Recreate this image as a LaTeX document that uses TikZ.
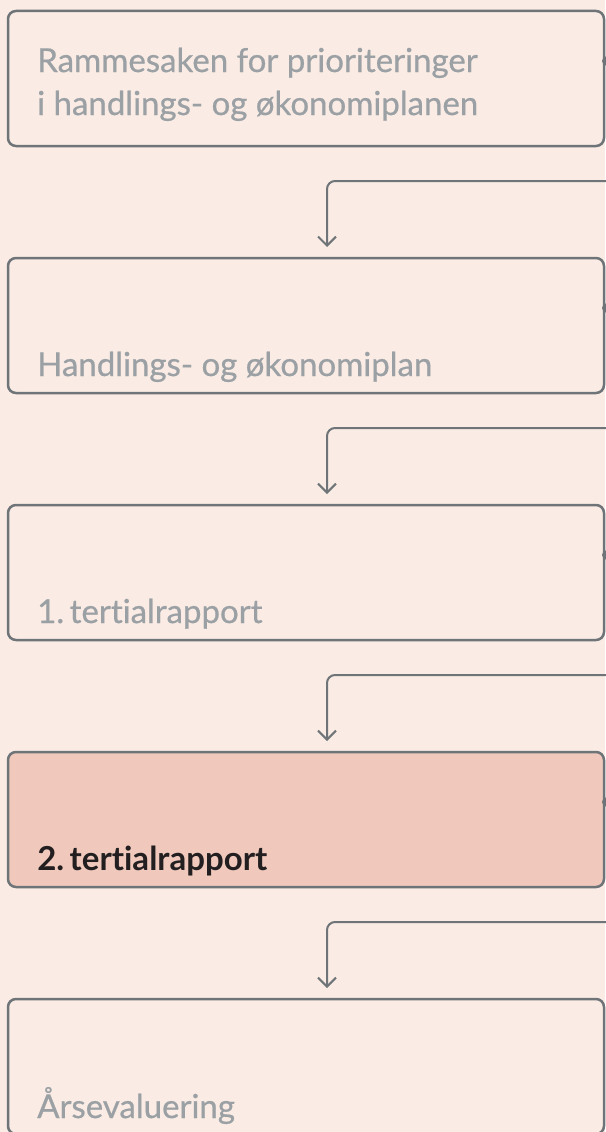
\documentclass[tikz,border=0pt]{standalone}
\usepackage{fontspec}
\setmainfont{Lato}[Ligatures=NoCommon]
\newfontface\lblfont{Lato}[FakeBold=0.6, Ligatures=NoCommon]
\usetikzlibrary{positioning,arrows.meta}
\definecolor{bg}{RGB}{250,236,228}
\definecolor{hl}{RGB}{240,201,188}
\definecolor{edge}{RGB}{110,116,119}
\definecolor{txt}{RGB}{154,160,164}
\definecolor{dark}{RGB}{35,31,32}
\begin{document}
\begin{tikzpicture}[node distance={112pt}, line width=2.5pt,
    main/.style = {draw=edge, rectangle, rounded corners=8pt, minimum width=596pt, minimum height=135pt, inner sep=0pt, outer sep=0pt},
    lbl/.style = {text=txt, font=\fontsize{33}{43}\lblfont, inner sep=0pt, align=left, anchor=base west},
    flow/.style = {draw=edge, line width=2pt, rounded corners=8pt, shorten >=11pt, -{Straight Barb[length=9pt,width=18pt]}},
    dot/.style = {fill=edge}]
    \useasboundingbox[fill=bg] (0,0) rectangle (605pt,-1132pt);
    \node[main, anchor=north west] (1) at (8pt,-11pt) {};
    \node[main] (2) [below=of 1] {};
    \node[main] (3) [below=of 2] {};
    \node[main, fill=hl] (4) [below=of 3] {};
    \node[main] (5) [below=of 4] {};
    \node[lbl] (t1) at ([shift={(28pt,31pt)}]1.south west) {Rammesaken for prioriteringer\\i handlings- og økonomiplanen};
    \node[lbl] (t2) at ([shift={(28pt,17pt)}]2.south west) {Handlings- og økonomiplan};
    \node[lbl] (t3) at ([shift={(28pt,17pt)}]3.south west) {1.\,tertialrapport};
    \node[lbl, text=dark, font=\fontsize{33}{43}\selectfont\bfseries] (t4) at ([shift={(28pt,17pt)}]4.south west) {2.\,tertialrapport};
    \node[lbl] (t5) at ([shift={(28pt,16pt)}]5.south west) {Årsevaluering};
    % dots at the right edge
    \fill[dot] ([shift={(3pt,-50pt)}]1.north east) circle (5pt);
    \fill[dot] ([shift={(3pt,-50pt)}]2.north east) circle (5pt);
    \fill[dot] ([shift={(3pt,-50pt)}]3.north east) circle (5pt);
    \fill[dot] ([shift={(3pt,-50pt)}]4.north east) circle (5pt);
    % connectors
    \coordinate[below right=35pt and 20pt of 1.south east] (c1);
    \coordinate[below right=35pt and 20pt of 2.south east] (c2);
    \coordinate[below right=35pt and 20pt of 3.south east] (c3);
    \coordinate[below right=35pt and 20pt of 4.south east] (c4);
    \draw[flow] (c1) -| ([xshift=21pt]2.north);
    \draw[flow] (c2) -| ([xshift=21pt]3.north);
    \draw[flow] (c3) -| ([xshift=21pt]4.north);
    \draw[flow] (c4) -| ([xshift=21pt]5.north);
\end{tikzpicture}
\end{document}
